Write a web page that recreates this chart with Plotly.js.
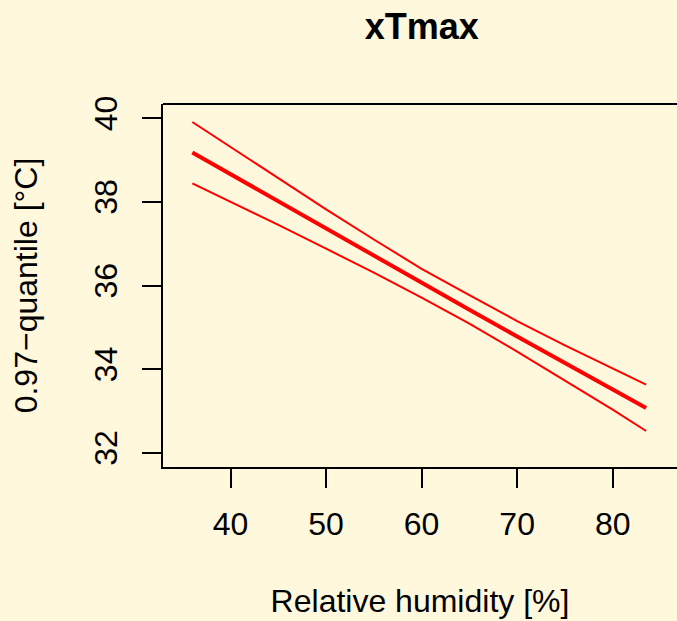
<!DOCTYPE html>
<html>
<head>
<meta charset="utf-8">
<script src="https://cdn.plot.ly/plotly-3.0.1.min.js"></script>
<style>html,body{margin:0;padding:0;background:#FFF8DC;}</style>
</head>
<body>
<div id="chart" style="width:677px;height:621px;"></div>
<script>
// Relative humidity [%]
var humidity = [36, 40, 45, 50, 55, 60, 65, 70, 75, 80, 83.5];
// 0.97-quantile estimate and band
var fitValues   = [39.18, 38.66, 38.01, 37.35, 36.70, 36.05, 35.42, 34.78, 34.15, 33.52, 33.07];
var upperValues = [39.91, 39.31, 38.57, 37.82, 37.10, 36.40, 35.77, 35.15, 34.57, 34.02, 33.63];
var lowerValues = [38.44, 38.00, 37.45, 36.88, 36.31, 35.71, 35.09, 34.42, 33.73, 33.03, 32.52];
var xTicks = [40, 50, 60, 70, 80];
var yTicks = [32, 34, 36, 38, 40];

var font = 'Liberation Sans, Arial, Helvetica, sans-serif';

var traces = [
  {x: humidity, y: upperValues, mode: 'lines', line: {color: '#FF0000', width: 2}, hoverinfo: 'skip'},
  {x: humidity, y: lowerValues, mode: 'lines', line: {color: '#FF0000', width: 2}, hoverinfo: 'skip'},
  {x: humidity, y: fitValues, mode: 'lines', line: {color: '#FF0000', width: 4}, hoverinfo: 'skip'}
];

var layout = {
  width: 677, height: 621,
  paper_bgcolor: '#FFF8DC', plot_bgcolor: '#FFF8DC',
  showlegend: false,
  margin: {l: 163, r: 0, t: 104, b: 154, pad: 0},
  font: {family: font, color: '#000000', size: 32},
  title: {text: '<b>xTmax</b>', font: {family: font, size: 36, color: '#000'},
          x: 0.623, xanchor: 'center', xref: 'container', y: 0.957, yanchor: 'middle', yref: 'container'},
  xaxis: {
    range: [32.93, 86.73], tickvals: xTicks, ticktext: xTicks.map(String),
    showgrid: false, zeroline: false, showline: true, linecolor: '#000', linewidth: 2,
    ticks: 'outside', ticklen: 19, tickwidth: 2, tickcolor: '#000', ticklabelstandoff: 9,
    tickfont: {family: font, size: 32, color: '#000'},
    title: {text: 'Relative humidity [%]', font: {family: font, size: 32, color: '#000'}, standoff: 48}
  },
  yaxis: {
    range: [31.66, 40.34], tickvals: yTicks, ticktext: yTicks.map(String),
    showgrid: false, zeroline: false, showline: true, linecolor: '#000', linewidth: 2,
    ticks: 'outside', ticklen: 19, tickwidth: 2, tickcolor: '#000', tickangle: -90, ticklabelstandoff: 12,
    tickfont: {family: font, size: 32, color: '#000'},
    title: {text: '0.97\u2212quantile [\u00B0C]', font: {family: font, size: 32, color: '#000'}, standoff: 41}
  },
  shapes: [
    {type: 'line', xref: 'paper', yref: 'paper', x0: 0, x1: 1, y0: 1, y1: 1, line: {color: '#000', width: 2}}
  ]
};

Plotly.newPlot('chart', traces, layout, {displayModeBar: false, staticPlot: true});
</script>
</body>
</html>
